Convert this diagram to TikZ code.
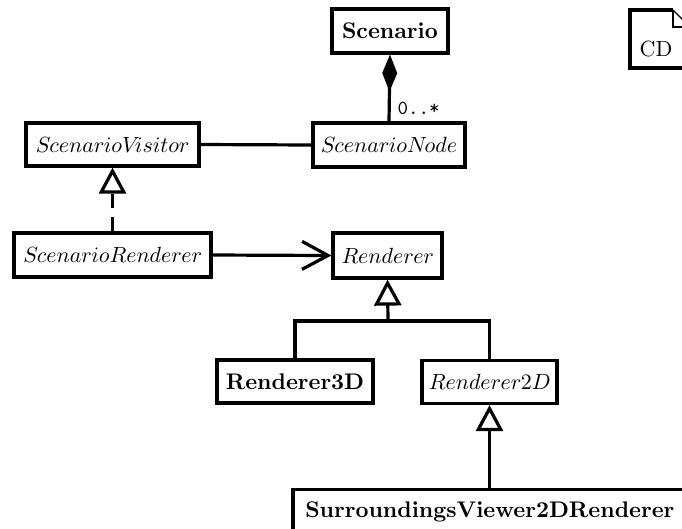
\documentclass[tikz,border=0pt]{standalone}
\usetikzlibrary{arrows.meta}
\font\clsbf=cmbx10 at 22.6pt
\font\clsit=cmmi10 at 22pt
\font\clsrm=cmr10 at 22pt
\font\clstt=cmtt10 at 20pt
\begin{document}
\begin{tikzpicture}[x=1pt,y=-1pt,line width=3.2pt,
  cls/.style={draw,line width=3.2pt,minimum height=44pt,inner sep=0pt,font=\clsbf},
  abs/.style={cls,font=\clsit},
  gen/.style={-{Triangle[open,fill=white,length=26pt,width=27pt]}},
  assoc/.style={-{Straight Barb[length=26pt,width=28pt]}},
  comp/.style={-{Diamond[length=37pt,width=15pt]}},
  realize/.style={gen,dash pattern=on 14pt off 9pt},
  lbl/.style={font=\clstt,inner sep=0pt}]
\clip (0,0) rectangle (682,528);
% classes
\node[cls,minimum width=116pt] (scen) at (390,31) {Scenario};
\node[abs,minimum width=152pt] (snode) at (389,145) {ScenarioNode};
\node[abs,minimum width=173pt,minimum height=43pt] (svis) at (112.5,144.5) {ScenarioVisitor};
\node[abs,minimum width=197pt] (srend) at (112.5,255) {ScenarioRenderer};
\node[abs,minimum width=109pt,minimum height=45pt] (rend) at (387.5,255.5) {Renderer};
\node[cls,minimum width=156pt,minimum height=43pt] (r3d) at (295,381.5) {Renderer3D};
\node[abs,minimum width=135pt,minimum height=43pt] (r2d) at (489.5,382) {Renderer{\clsrm 2}D};
\node[cls,minimum width=394pt,anchor=north] (surr) at (490,488) {SurroundingsViewer2DRenderer};
% connectors
\draw[comp] (snode.north) -- (scen.south);
\node[lbl,anchor=west] (mult) at (396,108) {0..*};
\draw (svis.east) -- (snode.west);
\draw[realize] (srend.north) -- (svis.south);
\draw[assoc] (srend.east) -- (rend.west);
\coordinate (j) at (388,321);
\draw (r3d.north) |- (j) -| (r2d.north);
\draw[gen] (j) -- (rend.south);
\draw[gen] (surr.north -| r2d.south) -- (r2d.south);
% frame tag
\draw (700,68) -- (630,68) -- (630,10) -- (673,10);
\draw[line width=1.2pt] (673,10) -- (691,28);
\draw[line width=1.2pt] (673,10) -- (673,27) -- (691,27);
\node[font=\clsrm,inner sep=0pt] (cd) at (656,49) {CD};
\end{tikzpicture}
\end{document}
